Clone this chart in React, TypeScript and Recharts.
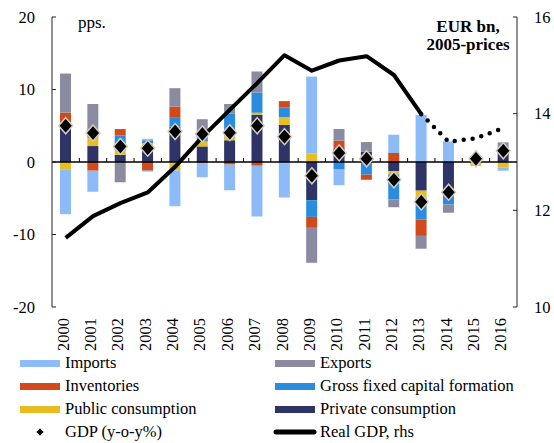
import { ComposedChart, Bar, Line, XAxis, YAxis, ReferenceLine } from 'recharts'

const years = ['2000', '2001', '2002', '2003', '2004', '2005', '2006', '2007', '2008', '2009', '2010', '2011', '2012', '2013', '2014', '2015', '2016']

const privateCons = [5.4, 2.2, 1.0, 2.2, 4.85, 2.15, 3.0, 6.5, 5.1, -5.27, 1.9, 1.4, -1.28, -3.95, -4.36, 0.8, 1.9]
const publicCons = [-1.0, 1.1, 0.6, 0.4, -1.15, 0.7, 0.55, 0.3, 1.1, 1.14, 0, 0, -0.42, -1.0, 0, -0.55, -0.75]
const gfcf = [0, 0, 2.06, 0.4, 1.34, 0.8, 3.1, 2.8, 1.3, -2.3, -1.05, -1.75, -3.48, -2.98, -1.51, 0, 0]
const inventories = [1.4, -1.2, 0.88, -1.15, 1.46, -0.15, -0.35, -0.5, 0.9, -1.51, 1.05, -0.7, 1.24, -2.26, 0, 0, 0]
const exportsC = [5.4, 4.7, -2.8, -0.15, 2.53, 2.25, 1.35, 2.9, 0, -4.82, 1.6, 1.35, -1.06, -1.77, -1.13, 0, 0.8]
const importsC = [-6.2, -2.9, 0, 0.2, -4.95, -1.95, -3.55, -7.0, -4.9, 10.64, -2.15, 0, 2.52, 6.5, 2.84, 0, -0.45]
const gdpGrowth = [5.0, 4.0, 2.15, 1.9, 4.2, 3.85, 4.05, 5.0, 3.5, -1.9, 1.25, 0.45, -2.45, -5.5, -4.17, 0.45, 1.55]
const realGdp = [11.43, 11.88, 12.15, 12.37, 12.9, 13.52, 14.08, 14.63, 15.21, 14.89, 15.1, 15.19, 14.8, 13.99, null, null, null]
const realGdpForecast = [null, null, null, null, null, null, null, null, null, null, null, null, null, 13.99, 13.42, 13.49, 13.7]

const leftTicks = [-20, -10, 0, 10, 20]
const rightTicks = [10, 12, 14, 16]

const C = {
  imports: '#8CBBF7',
  exports: '#8A8AA0',
  inventories: '#D24A1B',
  gfcf: '#2B8BDF',
  public: '#E6BE22',
  private: '#2E3466',
}

const data = years.map((y, i) => ({
  year: y,
  private: privateCons[i],
  public: publicCons[i],
  gfcf: gfcf[i],
  inventories: inventories[i],
  exports: exportsC[i],
  imports: importsC[i],
  gdp: gdpGrowth[i],
  real: realGdp[i],
  forecast: realGdpForecast[i],
}))

const FONT = '"Liberation Serif", "Times New Roman", serif'

function Diamond(props: any) {
  const { cx, cy } = props
  if (cx == null || cy == null) return <g />
  return (
    <polygon
      points={`${cx},${cy - 8} ${cx + 7},${cy} ${cx},${cy + 8} ${cx - 7},${cy}`}
      fill="#000"
      stroke="#d6cdbf"
      strokeWidth={1.5}
    />
  )
}

function YearTick(props: any) {
  const { x, y, payload } = props
  return (
    <text
      x={x}
      y={y}
      dy={3}
      transform={`rotate(-90, ${x}, ${y})`}
      textAnchor="end"
      fontSize={16.5}
      style={{ fontFamily: FONT }}
      fill="#000"
    >
      {payload.value}
    </text>
  )
}

function ValueTick(props: any) {
  const { x, y, payload, textAnchor } = props
  return (
    <text x={x} y={y} dy={5.5} textAnchor={textAnchor} fontSize={16.5} style={{ fontFamily: FONT }} fill="#000">
      {payload.value}
    </text>
  )
}

// zero line with small upward ticks between the years
function ZeroLine(props: any) {
  const { x1, y1, x2, y2 } = props
  const step = (x2 - x1) / years.length
  return (
    <g>
      <line x1={x1} y1={y1} x2={x2} y2={y2} stroke="#000" strokeWidth={1.5} />
      {years.slice(1).map((_, i) => (
        <line key={i} x1={x1 + step * (i + 1)} x2={x1 + step * (i + 1)} y1={y1} y2={y1 - 4} stroke="#000" strokeWidth={1} />
      ))}
    </g>
  )
}

const legendItems = [
  { label: 'Imports', color: C.imports, col: 0, row: 0 },
  { label: 'Exports', color: C.exports, col: 1, row: 0 },
  { label: 'Inventories', color: C.inventories, col: 0, row: 1 },
  { label: 'Gross fixed capital formation', color: C.gfcf, col: 1, row: 1 },
  { label: 'Public consumption', color: C.public, col: 0, row: 2 },
  { label: 'Private consumption', color: C.private, col: 1, row: 2 },
]

const txt = { position: 'absolute' as const, fontSize: 16.5, lineHeight: '22px', whiteSpace: 'nowrap' as const }

function ChartLegend() {
  const colX = [20, 275]
  const rowY = [363, 386, 409, 432]
  return (
    <div style={{ position: 'absolute', left: 0, top: 0, width: 554, height: 443, pointerEvents: 'none' }}>
      {legendItems.map(it => (
        <div key={it.label}>
          <div style={{ position: 'absolute', left: colX[it.col], top: rowY[it.row] - 3.5, width: 40, height: 7, background: it.color }} />
          <div style={{ ...txt, left: colX[it.col] + 45, top: rowY[it.row] - 11 }}>{it.label}</div>
        </div>
      ))}
      <svg style={{ position: 'absolute', left: 0, top: 0 }} width={554} height={443}>
        <polygon points={`40,${rowY[3] - 4} 44,${rowY[3]} 40,${rowY[3] + 4} 36,${rowY[3]}`} fill="#000" stroke="#d6cdbf" strokeWidth={1} />
        <line x1={276} x2={314} y1={rowY[3]} y2={rowY[3]} stroke="#000" strokeWidth={5} strokeLinecap="round" />
      </svg>
      <div style={{ ...txt, left: 65, top: rowY[3] - 11 }}>GDP (y-o-y%)</div>
      <div style={{ ...txt, left: 320, top: rowY[3] - 11 }}>Real GDP, rhs</div>
    </div>
  )
}

export default function App() {
  return (
    <div style={{ position: 'absolute', left: 0, top: 0, width: 554, height: 443, background: '#fff', fontFamily: FONT, color: '#000' }}>
      <ComposedChart
        width={554}
        height={443}
        data={data}
        stackOffset="sign"
        barSize={11}
        margin={{ top: 17, right: 0, bottom: 96, left: 0 }}
        style={{ fontFamily: FONT }}
      >
        <XAxis dataKey="year" axisLine={false} tickLine={false} tickSize={0} tickMargin={11} height={40} interval={0} tick={<YearTick />} />
        <YAxis
          yAxisId="left"
          width={52}
          domain={[-20, 20]}
          ticks={leftTicks}
          tickSize={-4}
          tickMargin={21}
          axisLine={{ stroke: '#222' }}
          tickLine={{ stroke: '#222' }}
          tick={<ValueTick />}
        />
        <YAxis
          yAxisId="right"
          orientation="right"
          width={37}
          domain={[10, 16]}
          ticks={rightTicks}
          tickSize={-4}
          tickMargin={21}
          axisLine={{ stroke: '#222' }}
          tickLine={{ stroke: '#222' }}
          tick={<ValueTick />}
        />
        <Bar yAxisId="left" dataKey="private" stackId="a" fill={C.private} isAnimationActive={false} />
        <Bar yAxisId="left" dataKey="public" stackId="a" fill={C.public} isAnimationActive={false} />
        <Bar yAxisId="left" dataKey="gfcf" stackId="a" fill={C.gfcf} isAnimationActive={false} />
        <Bar yAxisId="left" dataKey="inventories" stackId="a" fill={C.inventories} isAnimationActive={false} />
        <Bar yAxisId="left" dataKey="exports" stackId="a" fill={C.exports} isAnimationActive={false} />
        <Bar yAxisId="left" dataKey="imports" stackId="a" fill={C.imports} isAnimationActive={false} />
        <ReferenceLine yAxisId="left" y={0} shape={<ZeroLine />} />
        <Line yAxisId="right" dataKey="real" stroke="#000" strokeWidth={4} strokeLinejoin="round" dot={false} activeDot={false} isAnimationActive={false} />
        <Line yAxisId="right" dataKey="forecast" stroke="#000" strokeWidth={4.5} strokeDasharray="0 9" strokeLinecap="round" dot={false} activeDot={false} isAnimationActive={false} />
        <Line yAxisId="left" dataKey="gdp" stroke="none" dot={<Diamond />} activeDot={false} isAnimationActive={false} />
        <text x={78} y={28} fontSize={17} style={{ fontFamily: FONT }} fill="#000">pps.</text>
        <text x={468} y={32} fontSize={17} fontWeight="bold" textAnchor="middle" style={{ fontFamily: FONT }} fill="#000">EUR bn,</text>
        <text x={468} y={50} fontSize={17} fontWeight="bold" textAnchor="middle" style={{ fontFamily: FONT }} fill="#000">2005-prices</text>
      </ComposedChart>
      <ChartLegend />
    </div>
  )
}
